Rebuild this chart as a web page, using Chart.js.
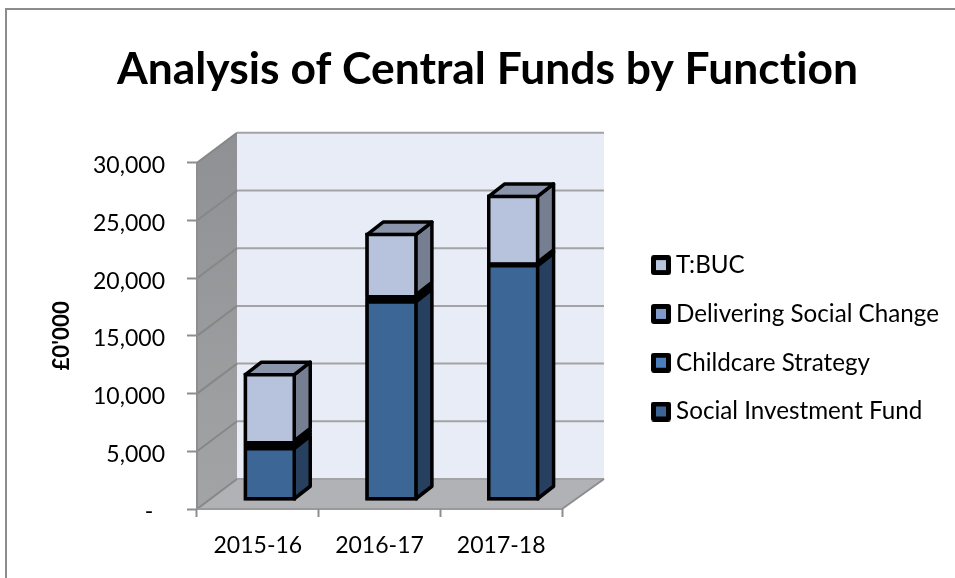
<!DOCTYPE html>
<html>
<head>
<meta charset="utf-8">
<style>
  html, body { margin: 0; padding: 0; background: #fff; }
  #wrap { position: relative; width: 955px; height: 578px; }
</style>
<script src="https://cdn.jsdelivr.net/npm/chart.js@4/dist/chart.umd.min.js"></script>
</head>
<body>
<div id="wrap"><canvas id="funds" width="955" height="578"></canvas></div>
<script>
// Central funds per year, in thousands of pounds.
const years = ['2015-16', '2016-17', '2017-18'];
const socialInvestmentFund = [4680, 17400, 20530];
const childcareStrategy = [260, 230, 70];
const deliveringSocialChange = [260, 230, 70];
const tBuc = [5900, 5380, 5870];

const FONT = 'Lato, Carlito, sans-serif';

// Box depth of the pseudo-3D frame (walls) and of each bar, in pixels.
const WALL = { dx: 40, dy: -30, rightDx: 42 };
const BAR_SHIFT = { dx: 12, dy: -8 };
const BAR_DEPTH = { dx: 16, dy: -12.5 };
const EDGE = 3.5;

const palette = {
  sif: { front: '#3c6695', side: '#274060', top: '#33557c', key: '#3b6595' },
  cs:  { front: '#4a7eb8', side: '#2f5378', top: '#3f6c9e', key: '#4a7fbb' },
  dsc: { front: '#7f9bca', side: '#525f80', top: '#6c84ad', key: '#7f9bca' },
  tbuc:{ front: '#b7c3dd', side: '#767e92', top: '#8a95ab', key: '#b8c5df' }
};

// Solid outlines on every side; the thin middle segments collapse to a black band.
const closed = { top: EDGE, right: EDGE, bottom: EDGE, left: EDGE };
const open = { top: EDGE, right: EDGE, bottom: 0, left: EDGE };

function series(label, data, colours, borderWidth) {
  return {
    label, data,
    backgroundColor: colours.front,
    borderColor: '#000',
    borderWidth,
    borderSkipped: false,
    colours
  };
}

// Legend swatch: a black rounded square around the series colour.
function swatch(colour) {
  const c = document.createElement('canvas');
  c.width = c.height = 20;
  const g = c.getContext('2d');
  g.fillStyle = '#000';
  g.beginPath();
  g.roundRect(0, 0, 20, 20, 3);
  g.fill();
  g.fillStyle = colour;
  g.fillRect(5, 5, 10, 10);
  return c;
}

function polygon(ctx, pts, fill, stroke, width) {
  ctx.beginPath();
  pts.forEach((p, i) => (i ? ctx.lineTo(p[0], p[1]) : ctx.moveTo(p[0], p[1])));
  ctx.closePath();
  if (fill) { ctx.fillStyle = fill; ctx.fill(); }
  if (stroke) { ctx.strokeStyle = stroke; ctx.lineWidth = width; ctx.stroke(); }
}

function line(ctx, x1, y1, x2, y2, colour, width) {
  ctx.beginPath();
  ctx.moveTo(x1, y1);
  ctx.lineTo(x2, y2);
  ctx.strokeStyle = colour;
  ctx.lineWidth = width;
  ctx.stroke();
}

// Draws the outer frame, the back and side walls, the floor and their gridlines.
const stage = {
  id: 'stage',
  beforeDraw(chart) {
    const { ctx, scales: { x, y } } = chart;
    const left = x.left, right = x.right, top = y.top, bottom = y.bottom;
    // A nonzero spacing keeps "ti" from joining into a ligature in the labels.
    ctx.letterSpacing = '0.01px';
    ctx.save();

    ctx.fillStyle = '#fff';
    ctx.fillRect(0, 0, chart.width, chart.height);
    line(ctx, 6, 9, 6, chart.height, '#8c8c8c', 2);
    line(ctx, 5, 9, chart.width, 9, '#8c8c8c', 2);

    polygon(ctx, [
      [left + WALL.dx, top + WALL.dy], [right + WALL.rightDx, top + WALL.dy],
      [right + WALL.rightDx, bottom + WALL.dy], [left + WALL.dx, bottom + WALL.dy]
    ], '#e8ecf6');

    const wallShade = ctx.createLinearGradient(0, top + WALL.dy, 0, bottom);
    wallShade.addColorStop(0, '#8f9093');
    wallShade.addColorStop(1, '#a3a4a6');
    polygon(ctx, [
      [left, top], [left + WALL.dx, top + WALL.dy],
      [left + WALL.dx, bottom + WALL.dy], [left, bottom]
    ], wallShade);

    polygon(ctx, [
      [left, bottom], [left + WALL.dx, bottom + WALL.dy],
      [right + WALL.rightDx, bottom + WALL.dy], [right, bottom]
    ], '#b0b2b6');

    y.ticks.forEach(tick => {
      const py = y.getPixelForValue(tick.value);
      line(ctx, left, py, left + WALL.dx, py + WALL.dy, '#868789', 2);
      line(ctx, left + WALL.dx, py + WALL.dy, right + WALL.rightDx, py + WALL.dy, '#a3a3a5', 2);
    });
    line(ctx, left, bottom, right, bottom, '#9a9a9c', 2);
    line(ctx, right, bottom, right + WALL.rightDx, bottom + WALL.dy, '#8e8e90', 2);
    line(ctx, left, top, left, bottom, '#8e8e90', 2);
    ctx.restore();
  },
  // Side and top faces come from the bar elements; the fronts are then drawn by the
  // bar controller inside the same translated frame.
  beforeDatasetsDraw(chart) {
    const { ctx } = chart;
    ctx.save();
    ctx.translate(BAR_SHIFT.dx, BAR_SHIFT.dy);
    ctx.lineJoin = 'round';
    const inset = EDGE / 2;
    const last = chart.data.datasets.length - 1;
    const count = chart.data.labels.length;
    for (let i = 0; i < count; i++) {
      const first = chart.getDatasetMeta(0).data[i].getProps(['x', 'base', 'width'], true);
      const crown = chart.getDatasetMeta(last).data[i].getProps(['y'], true);
      // Black backing so hairline gaps between stacked segments stay dark.
      ctx.fillStyle = '#000';
      ctx.fillRect(first.x - first.width / 2, crown.y, first.width, first.base - crown.y);

      chart.data.datasets.forEach((ds, d) => {
        const bar = chart.getDatasetMeta(d).data[i];
        const { x, y, base, width } = bar.getProps(['x', 'y', 'base', 'width'], true);
        const r = x + width / 2 - inset, l = x - width / 2 + inset;
        const t = y + inset;
        const low = d === 0 ? base - inset : base;
        polygon(ctx, [
          [r, t], [r + BAR_DEPTH.dx, t + BAR_DEPTH.dy],
          [r + BAR_DEPTH.dx, low + BAR_DEPTH.dy], [r, low]
        ], ds.colours.side, '#000', EDGE);
        if (d === last) {
          polygon(ctx, [
            [l, t], [l + BAR_DEPTH.dx, t + BAR_DEPTH.dy],
            [r + BAR_DEPTH.dx, t + BAR_DEPTH.dy], [r, t]
          ], ds.colours.top, '#000', EDGE);
        }
      });
    }
  },
  afterDatasetsDraw(chart) {
    chart.ctx.restore();
  },
  // The legend sits in its own column, clear of the plot.
  beforeLayout(chart) {
    const legend = chart.legend;
    if (legend && !legend.pinned) {
      const fit = legend.fit;
      legend.fit = function () {
        fit.call(this);
        this.width = 393;
      };
      legend.pinned = true;
    }
  },
  afterLayout(chart) {
    const legend = chart.legend;
    const pad = legend.options.labels.padding;
    legend.left = 658 - pad;
    legend.right = legend.left + 393;
    legend.top = 253 - pad;
  }
};

new Chart(document.getElementById('funds'), {
  type: 'bar',
  data: {
    labels: years,
    datasets: [
      series('Social Investment Fund', socialInvestmentFund, palette.sif, closed),
      series('Childcare Strategy', childcareStrategy, palette.cs, closed),
      series('Delivering Social Change', deliveringSocialChange, palette.dsc, closed),
      series('T:BUC', tBuc, palette.tbuc, open)
    ]
  },
  plugins: [stage],
  options: {
    responsive: false,
    animation: false,
    events: [],
    layout: { padding: { left: 20 } },
    datasets: { bar: { categoryPercentage: 1, barPercentage: 0.43 } },
    scales: {
      x: {
        stacked: true,
        afterFit(scale) { scale.height = 69; },
        border: { display: false },
        grid: { drawOnChartArea: false, drawTicks: true, tickLength: 8, tickColor: '#8e8e90', tickWidth: 2, offset: true },
        ticks: { color: '#000', font: { family: FONT, size: 23 }, padding: 15, maxRotation: 0 }
      },
      y: {
        stacked: true,
        min: 0,
        max: 30000,
        afterFit(scale) { scale.width = 177; },
        border: { display: false },
        grid: { drawOnChartArea: false, drawTicks: true, tickLength: 10, tickColor: '#8e8e90', tickWidth: 2 },
        title: {
          display: true,
          text: "£0'000",
          color: '#000',
          font: { family: FONT, size: 22.3, weight: 'bold' },
          padding: { top: 28, bottom: 0 }
        },
        ticks: {
          stepSize: 5000,
          color: '#000',
          padding: 22,
          labelOffset: 3,
          font: { family: FONT, size: 23 },
          callback: v => (v === 0 ? '-\u00a0\u00a0' : v.toLocaleString('en-GB'))
        }
      }
    },
    plugins: {
      tooltip: { enabled: false },
      title: {
        display: true,
        text: 'Analysis of Central Funds by Function',
        color: '#000',
        font: { family: FONT, size: 44.4, weight: 'bold' },
        padding: { top: 43, bottom: 66.5 }
      },
      legend: {
        position: 'right',
        align: 'start',
        reverse: true,
        labels: {
          color: '#000',
          font: { family: FONT, size: 24.2 },
          usePointStyle: true,
          pointStyleWidth: 6,
          boxHeight: 20,
          padding: 24.6,
          generateLabels(chart) {
            return chart.data.datasets.map((ds, i) => ({
              text: ds.label,
              datasetIndex: i,
              pointStyle: swatch(ds.colours.key),
              fontColor: '#000',
              lineWidth: 0
            }));
          }
        }
      }
    }
  }
});
</script>
</body>
</html>
